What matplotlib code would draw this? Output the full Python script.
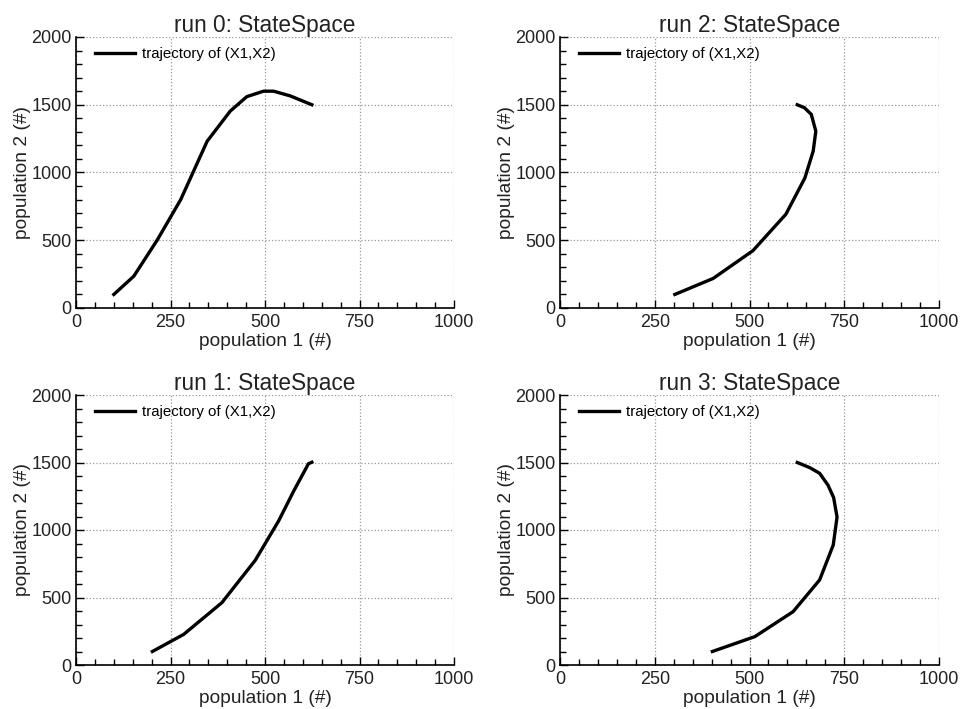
import matplotlib
matplotlib.use('Agg')
import matplotlib.pyplot as plt
from matplotlib.ticker import MultipleLocator

plt.rcParams['font.family'] = ['Liberation Sans', 'DejaVu Sans']

# trajectorias (X1, X2)
run0_x1 = [100, 153, 215, 277, 347, 408, 452, 496, 523, 567, 624]
run0_x2 = [100, 235, 502, 800, 1231, 1453, 1560, 1600, 1600, 1565, 1500]

run1_x1 = [202, 285, 386, 474, 536, 576, 615, 624]
run1_x2 = [100, 227, 462, 775, 1067, 1289, 1491, 1502]

run2_x1 = [303, 404, 509, 596, 646, 668, 675, 663, 645, 626]
run2_x2 = [100, 218, 423, 692, 959, 1157, 1305, 1429, 1478, 1500]

run3_x1 = [402, 514, 615, 685, 721, 731, 722, 707, 685, 659, 626]
run3_x2 = [100, 210, 395, 630, 889, 1096, 1240, 1333, 1420, 1462, 1500]

runs = [(0, run0_x1, run0_x2), (1, run1_x1, run1_x2),
        (2, run2_x1, run2_x2), (3, run3_x1, run3_x2)]

fig = plt.figure(figsize=(9.6, 7.09), dpi=100)
W, H = 960.0, 709.0
# posiciones de los ejes en pixeles (izq, arriba, der, abajo)
boxes = {0: (76, 37, 454, 308), 2: (560, 37, 939, 308),
         1: (76, 395, 454, 665), 3: (560, 395, 939, 665)}

for num, x1, x2 in runs:
    l, t, r, b = boxes[num]
    ax = fig.add_axes([l / W, 1 - b / H, (r - l) / W, (b - t) / H])
    ax.plot(x1, x2, color='black', lw=2.4, label='trajectory of (X1,X2)')
    ax.set_xlim(0, 1000)
    ax.set_ylim(0, 2000)
    ax.xaxis.set_major_locator(MultipleLocator(250))
    ax.xaxis.set_minor_locator(MultipleLocator(50))
    ax.yaxis.set_major_locator(MultipleLocator(500))
    ax.yaxis.set_minor_locator(MultipleLocator(100))
    ax.tick_params(which='both', direction='in', top=False, right=False,
                   labelsize=13, colors='black')
    ax.tick_params(axis='x', which='major', length=6, width=1, pad=4)
    ax.tick_params(axis='y', which='major', length=6, width=1, pad=3)
    ax.tick_params(which='minor', length=4, width=1)
    for lbl in ax.get_xticklabels() + ax.get_yticklabels():
        lbl.set_color('#222222')
    ax.grid(True, which='major', linestyle=':', color='#999999', linewidth=0.9)
    ax.spines['top'].set_visible(False)
    ax.spines['right'].set_visible(False)
    ax.spines['left'].set_linewidth(1.2)
    ax.spines['bottom'].set_linewidth(1.2)
    ax.set_title('run {}: StateSpace'.format(num), fontsize=16.3, pad=3,
                 color='#222222')
    ax.set_xlabel('population 1 (#)', fontsize=13.8, labelpad=2, color='#222222')
    ax.set_ylabel('population 2 (#)', fontsize=13.8, labelpad=0.5, color='#222222')
    ax.legend(loc='upper left', bbox_to_anchor=(0.05, 0.962), frameon=False,
              fontsize=10.8, handlelength=2.67, handletextpad=0.5,
              borderpad=0, borderaxespad=0)

fig.savefig('out.png', dpi=100)
